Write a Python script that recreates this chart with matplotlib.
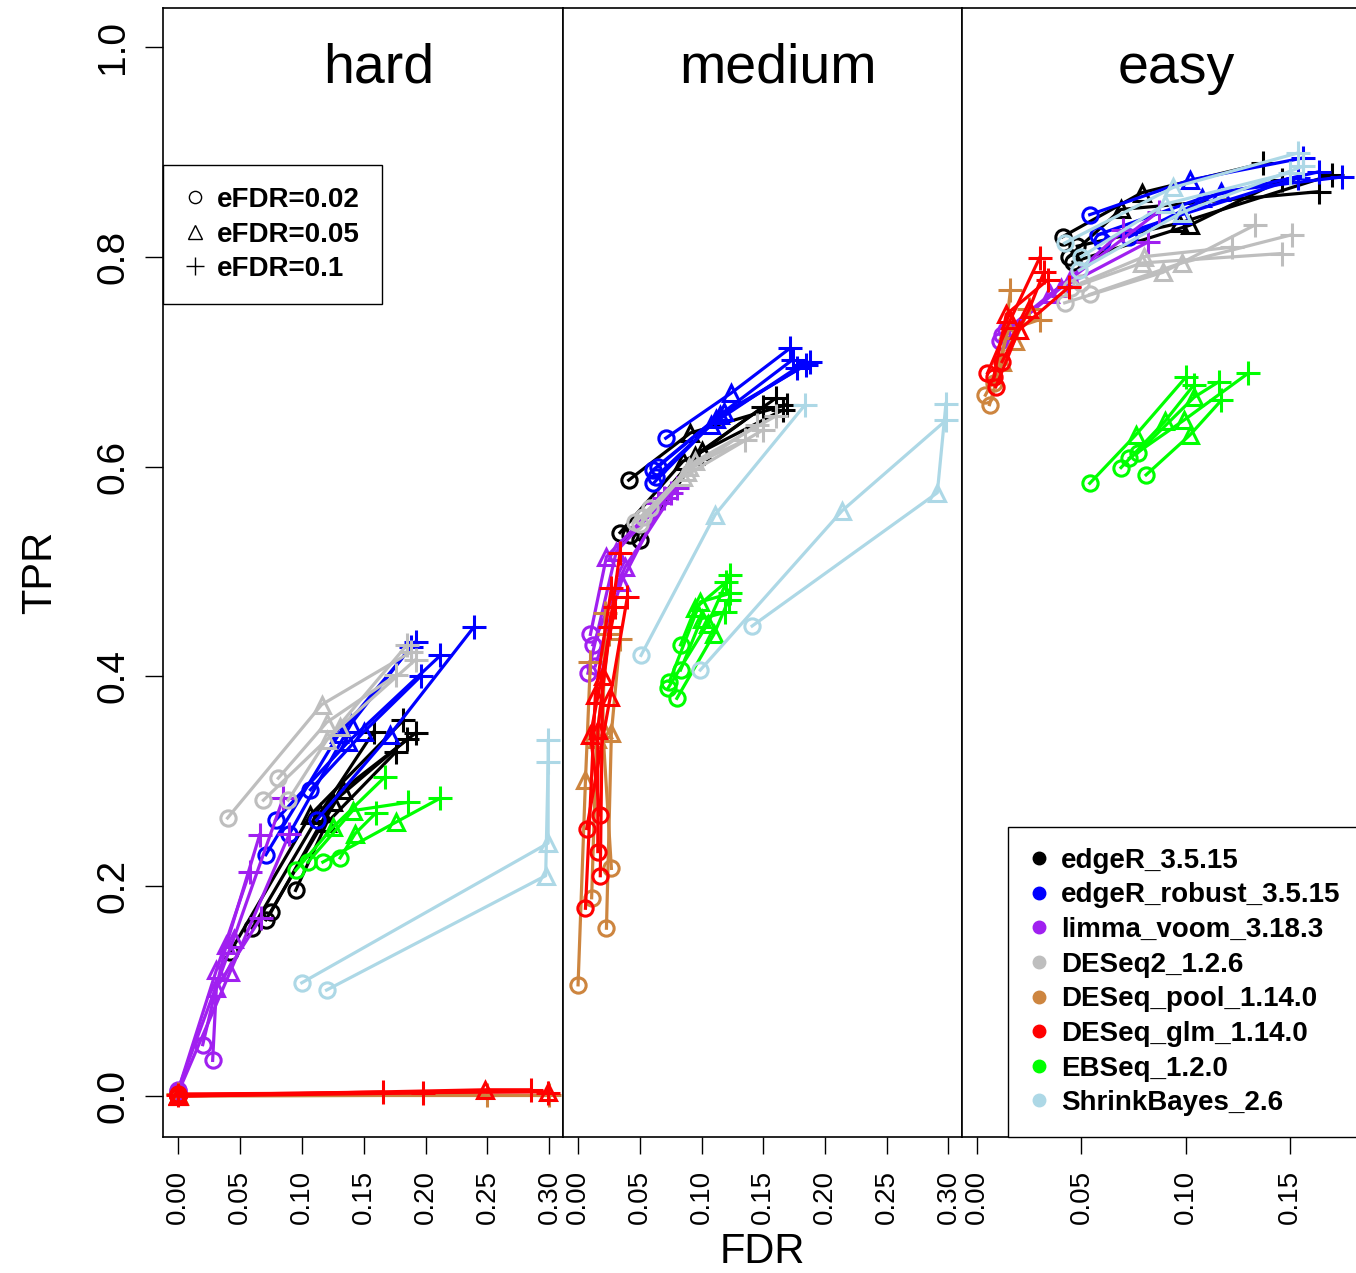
import matplotlib
matplotlib.use('Agg')
import matplotlib.pyplot as plt
from matplotlib.lines import Line2D

plt.rcParams['font.family'] = ['Liberation Sans', 'DejaVu Sans']

methods = ['edgeR_3.5.15', 'edgeR_robust_3.5.15', 'limma_voom_3.18.3', 'DESeq2_1.2.6',
           'DESeq_pool_1.14.0', 'DESeq_glm_1.14.0', 'EBSeq_1.2.0', 'ShrinkBayes_2.6']
colors = ['black', 'blue', '#A020F0', '#BEBEBE', '#CD853F', 'red', '#00FF00', '#ADD8E6']
efdr_labels = ['eFDR=0.02', 'eFDR=0.05', 'eFDR=0.1']

# each line: (FDR, TPR) at eFDR 0.02, 0.05, 0.1
hard_edger = [[(0.042, 0.137), (0.107, 0.268), (0.182, 0.358)],
              [(0.071, 0.168), (0.133, 0.292), (0.192, 0.346)],
              [(0.095, 0.196), (0.120, 0.260), (0.176, 0.328)],
              [(0.060, 0.160), (0.115, 0.270), (0.158, 0.347)],
              [(0.075, 0.175), (0.125, 0.280), (0.185, 0.340)]]
hard_robust = [[(0.112, 0.263), (0.171, 0.344), (0.239, 0.447)],
               [(0.107, 0.292), (0.150, 0.347), (0.196, 0.400)],
               [(0.079, 0.263), (0.137, 0.337), (0.212, 0.420)],
               [(0.071, 0.230), (0.130, 0.345), (0.192, 0.433)],
               [(0.090, 0.250), (0.140, 0.355), (0.188, 0.428)]]
hard_limma = [[(0.000, 0.005), (0.031, 0.120), (0.058, 0.214)],
              [(0.020, 0.049), (0.039, 0.144), (0.066, 0.249)],
              [(0.028, 0.034), (0.031, 0.103), (0.067, 0.170)],
              [(0.000, 0.003), (0.042, 0.118), (0.090, 0.250)],
              [(0.000, 0.006), (0.045, 0.150), (0.085, 0.284)]]
hard_deseq2 = [[(0.040, 0.265), (0.116, 0.373), (0.188, 0.423)],
               [(0.081, 0.303), (0.120, 0.356), (0.176, 0.401)],
               [(0.069, 0.282), (0.131, 0.352), (0.192, 0.416)],
               [(0.089, 0.282), (0.120, 0.339), (0.185, 0.430)]]
hard_pool = [[(0.000, 0.000), (0.000, 0.001), (0.300, 0.001)],
             [(0.000, 0.000), (0.001, 0.000), (0.250, 0.001)],
             [(0.000, 0.001), (0.000, 0.000), (0.000, 0.002)]]
hard_glm = [[(0.000, 0.000), (0.000, 0.001), (0.166, 0.004)],
            [(0.000, 0.001), (0.000, 0.000), (0.198, 0.003)],
            [(0.000, 0.000), (0.248, 0.006), (0.285, 0.006)],
            [(0.000, 0.002), (0.299, 0.004), (0.299, 0.003)],
            [(0.000, 0.000), (0.000, 0.000), (0.000, 0.001)]]
hard_ebseq = [[(0.095, 0.215), (0.125, 0.256), (0.167, 0.304)],
              [(0.105, 0.223), (0.141, 0.272), (0.186, 0.280)],
              [(0.117, 0.223), (0.176, 0.261), (0.212, 0.284)],
              [(0.131, 0.227), (0.143, 0.250), (0.160, 0.270)]]
hard_shrink = [[(0.100, 0.108), (0.299, 0.241), (0.299, 0.339)],
               [(0.120, 0.101), (0.297, 0.210), (0.299, 0.318)]]

medium_edger = [[(0.041, 0.587), (0.091, 0.632), (0.169, 0.659)],
                [(0.034, 0.537), (0.085, 0.605), (0.166, 0.654)],
                [(0.042, 0.535), (0.095, 0.610), (0.150, 0.657)],
                [(0.050, 0.530), (0.100, 0.615), (0.160, 0.665)]]
medium_robust = [[(0.071, 0.627), (0.124, 0.670), (0.172, 0.713)],
                 [(0.061, 0.597), (0.115, 0.649), (0.185, 0.697)],
                 [(0.063, 0.590), (0.108, 0.640), (0.177, 0.694)],
                 [(0.061, 0.584), (0.112, 0.645), (0.188, 0.700)],
                 [(0.065, 0.600), (0.118, 0.652), (0.174, 0.702)]]
medium_limma = [[(0.010, 0.440), (0.023, 0.514), (0.065, 0.565)],
                [(0.008, 0.403), (0.031, 0.519), (0.075, 0.575)],
                [(0.012, 0.430), (0.038, 0.504), (0.080, 0.580)],
                [(0.014, 0.410), (0.035, 0.490), (0.070, 0.570)]]
medium_deseq2 = [[(0.053, 0.552), (0.090, 0.600), (0.135, 0.625)],
                 [(0.046, 0.547), (0.085, 0.590), (0.150, 0.635)],
                 [(0.058, 0.560), (0.095, 0.605), (0.160, 0.648)],
                 [(0.050, 0.545), (0.088, 0.595), (0.145, 0.640)]]
medium_pool = [[(0.000, 0.106), (0.006, 0.301), (0.010, 0.414)],
               [(0.023, 0.160), (0.027, 0.346), (0.034, 0.436)],
               [(0.027, 0.217), (0.020, 0.350), (0.022, 0.460)],
               [(0.011, 0.189), (0.015, 0.340), (0.025, 0.440)]]
medium_glm = [[(0.006, 0.179), (0.014, 0.382), (0.027, 0.484)],
              [(0.007, 0.255), (0.026, 0.380), (0.040, 0.476)],
              [(0.018, 0.268), (0.010, 0.344), (0.030, 0.466)],
              [(0.016, 0.233), (0.016, 0.349), (0.026, 0.447)],
              [(0.018, 0.210), (0.020, 0.400), (0.034, 0.518)]]
medium_ebseq = [[(0.074, 0.395), (0.099, 0.471), (0.123, 0.479)],
                [(0.073, 0.389), (0.105, 0.450), (0.123, 0.497)],
                [(0.080, 0.379), (0.110, 0.440), (0.122, 0.473)],
                [(0.083, 0.406), (0.100, 0.455), (0.119, 0.461)],
                [(0.083, 0.430), (0.095, 0.465), (0.120, 0.490)]]
medium_shrink = [[(0.051, 0.420), (0.111, 0.554), (0.184, 0.659)],
                 [(0.099, 0.406), (0.214, 0.558), (0.298, 0.644)],
                 [(0.141, 0.448), (0.291, 0.575), (0.298, 0.660)]]

easy_edger = [[(0.041, 0.819), (0.079, 0.861), (0.137, 0.889)],
              [(0.044, 0.800), (0.069, 0.845), (0.164, 0.862)],
              [(0.048, 0.810), (0.097, 0.832), (0.170, 0.878)],
              [(0.046, 0.795), (0.102, 0.830), (0.146, 0.873)]]
easy_robust = [[(0.054, 0.840), (0.102, 0.873), (0.156, 0.894)],
               [(0.058, 0.821), (0.108, 0.856), (0.164, 0.881)],
               [(0.073, 0.819), (0.117, 0.862), (0.175, 0.876)],
               [(0.060, 0.815), (0.098, 0.840), (0.154, 0.875)]]
easy_limma = [[(0.011, 0.720), (0.035, 0.764), (0.087, 0.843)],
              [(0.012, 0.725), (0.040, 0.770), (0.082, 0.814)],
              [(0.014, 0.730), (0.045, 0.780), (0.070, 0.825)]]
easy_deseq2 = [[(0.042, 0.756), (0.089, 0.785), (0.133, 0.830)],
               [(0.054, 0.764), (0.098, 0.794), (0.151, 0.821)],
               [(0.045, 0.770), (0.079, 0.794), (0.146, 0.803)],
               [(0.050, 0.775), (0.080, 0.800), (0.122, 0.809)]]
easy_pool = [[(0.006, 0.659), (0.012, 0.700), (0.016, 0.768)],
             [(0.004, 0.668), (0.018, 0.720), (0.025, 0.750)],
             [(0.008, 0.680), (0.015, 0.730), (0.030, 0.740)]]
easy_glm = [[(0.005, 0.689), (0.016, 0.740), (0.030, 0.799)],
            [(0.009, 0.676), (0.020, 0.730), (0.044, 0.771)],
            [(0.008, 0.685), (0.014, 0.745), (0.034, 0.778)],
            [(0.012, 0.700), (0.025, 0.750), (0.032, 0.785)]]
easy_ebseq = [[(0.054, 0.584), (0.076, 0.630), (0.100, 0.685)],
              [(0.081, 0.592), (0.102, 0.630), (0.117, 0.663)],
              [(0.069, 0.599), (0.090, 0.643), (0.104, 0.678)],
              [(0.073, 0.608), (0.099, 0.644), (0.130, 0.689)],
              [(0.077, 0.613), (0.104, 0.666), (0.116, 0.681)]]
easy_shrink = [[(0.042, 0.813), (0.094, 0.866), (0.154, 0.899)],
               [(0.049, 0.787), (0.098, 0.842), (0.156, 0.886)],
               [(0.050, 0.800), (0.090, 0.850), (0.150, 0.880)]]

panel_names = ['hard', 'medium', 'easy']
panel_data = [
    [hard_edger, hard_robust, hard_limma, hard_deseq2, hard_pool, hard_glm, hard_ebseq, hard_shrink],
    [medium_edger, medium_robust, medium_limma, medium_deseq2, medium_pool, medium_glm, medium_ebseq, medium_shrink],
    [easy_edger, easy_robust, easy_limma, easy_deseq2, easy_pool, easy_glm, easy_ebseq, easy_shrink],
]
xticks = [[0, 0.05, 0.1, 0.15, 0.2, 0.25, 0.3],
          [0, 0.05, 0.1, 0.15, 0.2, 0.25, 0.3],
          [0, 0.05, 0.1, 0.15]]
xlims = [(-0.0121, 0.311), (-0.0122, 0.311), (-0.0072, 0.1835)]
yticks = [0, 0.2, 0.4, 0.6, 0.8, 1.0]

W, H = 1356, 1273
fig = plt.figure(figsize=(W / 100, H / 100), dpi=100)


def px_axes(l, r, t, b):
    return fig.add_axes([l / W, 1 - b / H, (r - l) / W, (b - t) / H])


axes = [px_axes(163, 563, 8, 1137), px_axes(563, 962, 8, 1137), px_axes(962, 1360, 8, 1137)]
markers = ['o', '^', '+']
msizes = [11, 12, 17]

for ax, name, data, xt, xl in zip(axes, panel_names, panel_data, xticks, xlims):
    for lines, c in zip(data, colors):
        for ln in lines:
            xs = [p[0] for p in ln]
            ys = [p[1] for p in ln]
            ax.plot(xs, ys, color=c, lw=2.3)
            for (x, y), m, ms in zip(ln, markers, msizes):
                ax.plot(x, y, marker=m, ms=ms, mfc='none', mec=c, mew=2.2, ls='none')
    ax.set_xlim(*xl)
    ax.set_ylim(-0.039, 1.037)
    ax.set_xticks(xt)
    ax.set_xticklabels(['%.2f' % v for v in xt], rotation=90)
    ax.tick_params(axis='x', direction='out', length=12, width=1, pad=12, labelsize=20)
    ax.text(0.538, 0.946, name, transform=ax.transAxes, ha='center', va='center', fontsize=40)
    for s in ax.spines.values():
        s.set_linewidth(1.2)

axes[0].set_yticks(yticks)
axes[0].set_yticklabels(['%.1f' % v for v in yticks], rotation=90, va='center')
axes[0].tick_params(axis='y', direction='out', length=13, width=1, pad=10, labelsize=28)
for ax in axes[1:]:
    ax.tick_params(axis='y', left=False, labelleft=False)
axes[2].spines['right'].set_visible(False)

h1 = [Line2D([], [], marker=m, ls='none', mfc='none', mec='black', ms=ms * 0.8, mew=1)
      for m, ms in zip(markers, msizes)]
leg1 = axes[0].legend(h1, efdr_labels, loc='upper left', bbox_to_anchor=(0, (1137 - 165) / 1129),
                      borderaxespad=0, prop={'weight': 'bold', 'size': 20}, fancybox=False,
                      edgecolor='black', handlelength=0.7, handletextpad=0.45,
                      labelspacing=0.3, borderpad=0.8, framealpha=1)
leg1.get_frame().set_linewidth(1)

h2 = [Line2D([], [], marker='o', ls='none', mfc=c, mec=c, ms=9) for c in colors]
leg2 = axes[2].legend(h2, methods, loc='lower left', bbox_to_anchor=((1008 - 962) / 398, 0),
                      borderaxespad=0, prop={'weight': 'bold', 'size': 20}, fancybox=False,
                      edgecolor='black', handlelength=0.7, handletextpad=0.45,
                      labelspacing=0.31, borderpad=0.75, framealpha=1)
leg2.get_frame().set_linewidth(1)

fig.text(40 / W, 1 - 572 / H, 'TPR', rotation=90, fontsize=30, ha='center', va='center')
fig.text(762 / W, 1 - 1252 / H, 'FDR', fontsize=30, ha='center', va='center')

fig.savefig('out.png', dpi=100)
